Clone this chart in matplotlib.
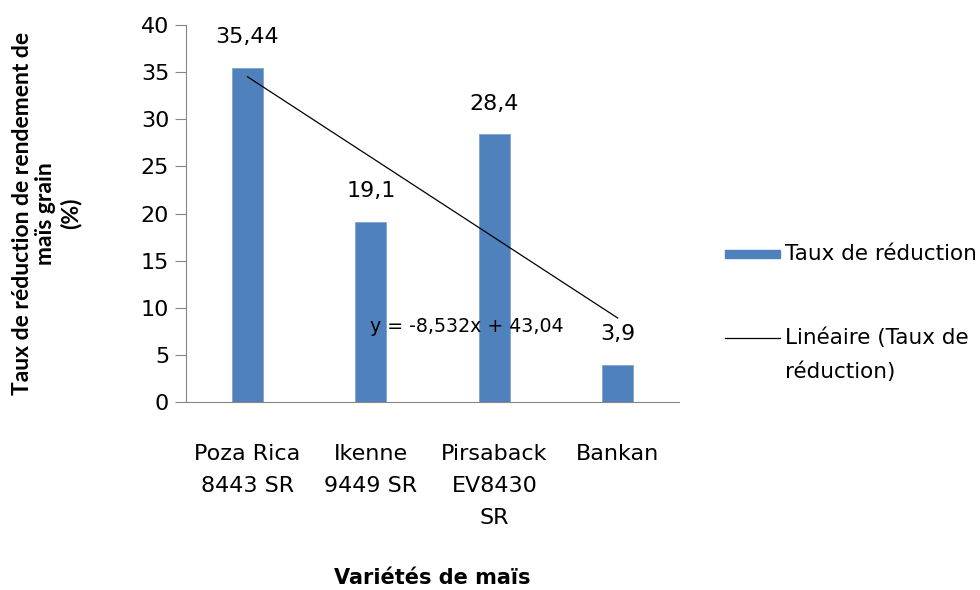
import numpy as np
import matplotlib
matplotlib.use("Agg")
import matplotlib.pyplot as plt
from matplotlib.patches import Rectangle
from matplotlib.lines import Line2D

## DATA
varietes = ["Poza Rica\n8443 SR", "Ikenne\n9449 SR", "Pirsaback\nEV8430\nSR", "Bankan"]
taux_reduction = [35.44, 19.1, 28.4, 3.9]
labels_valeurs = ["35,44", "19,1", "28,4", "3,9"]
y_ticks = [0, 5, 10, 15, 20, 25, 30, 35, 40]

## STYLE
BLUE = "#4F81BD"
GREY = "#868686"
FS = 16
plt.rcParams["font.family"] = ["DejaVu Sans"]

fig = plt.figure(figsize=(9.8, 5.9), dpi=100)
ax = fig.add_axes([0.1896, 0.3186, 0.5037, 0.639])

x = np.arange(len(varietes))
ax.bar(x, taux_reduction, width=0.25, color=BLUE, edgecolor="#7FA3D0", linewidth=0.6)

# linear trend line (Excel numbers categories from 1)
xs = x + 1
slope, intercept = np.polyfit(xs, taux_reduction, 1)
trend = slope * xs + intercept
ax.plot(x, trend, color="black", linewidth=0.9)

# data labels
for xi, val, lab in zip(x, taux_reduction, labels_valeurs):
    ax.annotate(lab, (xi, val), xytext=(0, 15), textcoords="offset points",
                ha="center", va="bottom", fontsize=FS)

eq = "y = {:.3f}x + {:.2f}".format(slope, intercept).replace(".", ",")
ax.text(0.99, 8.0, eq, ha="left", va="center", fontsize=13.7)

ax.set_xlim(-0.5, 3.5)
ax.set_ylim(0, 40)
ax.set_yticks(y_ticks)
ax.set_xticks(x)
ax.set_xticklabels(varietes, fontsize=FS, linespacing=1.75, va="top")
ax.tick_params(axis="x", length=0, pad=30)
ax.tick_params(axis="y", length=8, color=GREY, labelsize=FS, pad=4, direction="out")

for side in ["top", "right"]:
    ax.spines[side].set_visible(False)
ax.spines["left"].set_color(GREY)
ax.spines["bottom"].set_color(GREY)

ax.set_ylabel("Taux de réduction de rendement de\nmaïs grain\n(%)", fontsize=16.5,
              fontweight="bold", family=["Lato", "DejaVu Sans"], linespacing=1.17)
ax.yaxis.set_label_coords(-0.212, 0.5)
ax.set_xlabel("Variétés de maïs", fontsize=15, fontweight="bold")
ax.xaxis.set_label_coords(0.5, -0.44)

# legend drawn by hand: handle sits on the first line of the text, like Excel
fig.add_artist(Rectangle((0.7398, 0.5627), 0.0561, 0.0136, transform=fig.transFigure,
                         facecolor=BLUE, edgecolor=BLUE))
fig.text(0.801, 0.5695, "Taux de réduction", ha="left", va="center", fontsize=15.5)
fig.add_artist(Line2D([0.7398, 0.7959], [0.4271, 0.4271], transform=fig.transFigure,
                      color="black", linewidth=0.9))
fig.text(0.801, 0.4271, "Linéaire (Taux de", ha="left", va="center", fontsize=15.5)
fig.text(0.801, 0.3695, "réduction)", ha="left", va="center", fontsize=15.5)

fig.savefig("out.png", dpi=100)
